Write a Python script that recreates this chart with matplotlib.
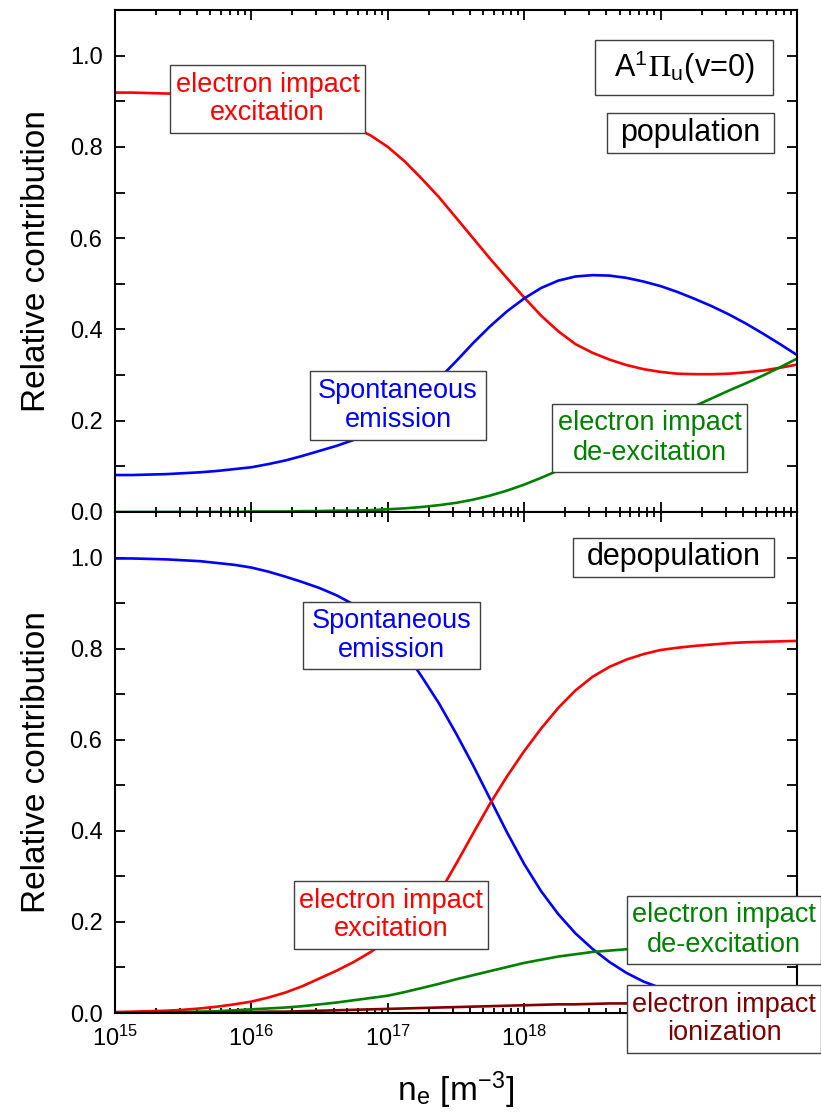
import numpy as np
import matplotlib
matplotlib.use("Agg")
import matplotlib.pyplot as plt
from matplotlib.patches import Rectangle
from matplotlib.ticker import MultipleLocator, LogLocator, NullFormatter

plt.rcParams['font.family'] = ['Liberation Sans', 'DejaVu Sans']
plt.rcParams['mathtext.fontset'] = 'stix'

# electron density grid, log10(n_e / m^-3), 1/8 decade steps
log_ne = [15.0, 15.125, 15.25, 15.375, 15.5, 15.625, 15.75, 15.875,
          16.0, 16.125, 16.25, 16.375, 16.5, 16.625, 16.75, 16.875,
          17.0, 17.125, 17.25, 17.375, 17.5, 17.625, 17.75, 17.875,
          18.0, 18.125, 18.25, 18.375, 18.5, 18.625, 18.75, 18.875,
          19.0, 19.125, 19.25, 19.375, 19.5, 19.625, 19.75, 19.875,
          20.0]

# population channels of A1Pi_u(v=0)
pop_exc = [.919, .919, .918, .917, .916, .914, .911, .907,
           .903, .896, .887, .876, .862, .853, .843, .825,
           .800, .768, .730, .690, .645, .600, .555, .512,
           .470, .430, .396, .368, .349, .334, .322, .313,
           .307, .303, .302, .302, .303, .306, .310, .316,
           .323]
pop_spon = [.081, .081, .082, .083, .085, .087, .090, .094,
            .098, .105, .113, .123, .134, .145, .158, .176,
            .198, .225, .256, .292, .330, .370, .407, .440,
            .468, .491, .507, .516, .519, .518, .513, .505,
            .495, .482, .467, .451, .433, .413, .391, .368,
            .344]
pop_deexc = [0, 0, 0, 0, 0, 0, 0, 0,
             .001, .001, .001, .002, .002, .003, .003, .004,
             .006, .008, .011, .015, .020, .027, .036, .047,
             .060, .075, .091, .108, .126, .144, .162, .179,
             .196, .214, .232, .249, .266, .282, .299, .317,
             .336]

# depopulation channels
dep_spon = [.998, .998, .997, .996, .994, .992, .988, .984,
            .978, .969, .958, .946, .933, .917, .897, .872,
            .840, .794, .738, .680, .614, .544, .470, .396,
            .327, .267, .217, .175, .141, .112, .088, .069,
            .055, .044, .035, .028, .022, .017, .014, .011,
            .009]
dep_exc = [.002, .003, .004, .005, .007, .010, .014, .019,
           .025, .034, .045, .059, .076, .093, .112, .134,
           .160, .190, .225, .262, .327, .394, .460, .520,
           .575, .625, .670, .708, .738, .760, .776, .788,
           .797, .802, .806, .809, .812, .814, .815, .816,
           .817]
dep_deexc = [.000, .001, .001, .002, .002, .003, .004, .006,
             .008, .010, .012, .015, .019, .023, .028, .033,
             .038, .046, .055, .064, .074, .083, .092, .101,
             .110, .117, .124, .129, .134, .137, .140, .142,
             .144, .146, .147, .148, .149, .150, .150, .151,
             .151]
dep_ion = [.000, .000, .000, .001, .001, .001, .001, .002,
           .002, .003, .003, .004, .005, .006, .007, .008,
           .009, .010, .011, .012, .013, .014, .015, .016,
           .017, .018, .019, .019, .020, .021, .021, .022,
           .022, .023, .023, .023, .024, .024, .024, .025,
           .025]

x_exp = [15, 16, 17, 18, 19, 20]
x_labels = [r'$\mathdefault{10^{15}}$', r'$\mathdefault{10^{16}}$',
            r'$\mathdefault{10^{17}}$', r'$\mathdefault{10^{18}}$', '', '']

RED, BLUE, GREEN, DRED = '#ff0000', '#0000ff', '#008000', '#800000'

W, H = 821, 1112
fig = plt.figure(figsize=(W / 100, H / 100), dpi=100)

def px_axes(x0, y0, x1, y1):
    return fig.add_axes([x0 / W, 1 - y1 / H, (x1 - x0) / W, (y1 - y0) / H])

ax1 = px_axes(115, 10, 797, 512)
ax2 = px_axes(115, 512, 797, 1013)
ne = 10.0 ** np.array(log_ne)

lw = 1.9
ax1.plot(ne, pop_exc, color=RED, lw=lw)
ax1.plot(ne, pop_spon, color=BLUE, lw=lw)
ax1.plot(ne, pop_deexc, color=GREEN, lw=lw)

ax2.plot(ne, dep_spon, color=BLUE, lw=lw)
ax2.plot(ne, dep_exc, color=RED, lw=lw)
ax2.plot(ne, dep_deexc, color=GREEN, lw=lw)
ax2.plot(ne, dep_ion, color=DRED, lw=lw)

for ax in (ax1, ax2):
    ax.set_xscale('log')
    ax.set_xlim(1e15, 1e20)
    ax.set_ylim(0, 1.1)
    ax.yaxis.set_major_locator(MultipleLocator(0.2))
    ax.yaxis.set_minor_locator(MultipleLocator(0.1))
    ax.set_xticks([10.0 ** e for e in x_exp])
    ax.set_xticklabels(x_labels)
    ax.xaxis.set_minor_locator(LogLocator(base=10, subs=np.arange(2, 10), numticks=10))
    ax.xaxis.set_minor_formatter(NullFormatter())
    ax.tick_params(which='both', direction='in', top=True, right=True, width=1.3,
                   labelsize=17, pad=9)
    ax.tick_params(which='major', length=7)
    ax.tick_params(axis='x', which='minor', length=3.5)
    ax.tick_params(axis='y', which='minor', length=7)
    ax.set_yticks([0.0, 0.2, 0.4, 0.6, 0.8, 1.0])
    ax.set_yticklabels(['0.0', '0.2', '0.4', '0.6', '0.8', '1.0'])
    for sp in ax.spines.values():
        sp.set_linewidth(1.5)
    ax.set_ylabel('Relative contribution', fontsize=24)
    ax.yaxis.set_label_coords(-0.093, 0.5)

ax1.tick_params(labelbottom=False)
ax2.set_xlabel(r'n$_\mathregular{e}$ [m$^\mathregular{-3}$]', fontsize=24)
ax2.xaxis.set_label_coords(0.5, -0.112)


def label_box(x0, y0, x1, y1, text, color, size):
    fig.add_artist(Rectangle((x0 / W, 1 - y1 / H), (x1 - x0) / W, (y1 - y0) / H,
                             transform=fig.transFigure, facecolor='white',
                             edgecolor='#404040', lw=1.0, zorder=5))
    fig.text((x0 + x1) / 2 / W, 1 - (y0 + y1) / 2 / H, text, color=color,
             fontsize=size, ha='center', va='center', linespacing=1.15, zorder=6)


# upper panel
label_box(170, 65, 365, 133, 'electron impact\nexcitation', RED, 19.5)
label_box(595, 40, 773, 95, r'A$^\mathregular{1}\Pi_\mathregular{u}$(v=0)', 'black', 22)
label_box(607, 113, 774, 153, 'population', 'black', 22)
label_box(310, 371, 486, 440, 'Spontaneous\nemission', BLUE, 19.5)
label_box(552, 404, 747, 472, 'electron impact\nde-excitation', GREEN, 19.5)

# lower panel
label_box(573, 538, 774, 577, 'depopulation', 'black', 22)
label_box(303, 602, 480, 669, 'Spontaneous\nemission', BLUE, 19.5)
label_box(294, 881, 488, 949, 'electron impact\nexcitation', RED, 19.5)
label_box(627, 896, 821, 964, 'electron impact\nde-excitation', GREEN, 19.5)
label_box(627, 985, 821, 1053, 'electron impact\nionization', DRED, 19.5)

fig.savefig('out.png', dpi=100)
